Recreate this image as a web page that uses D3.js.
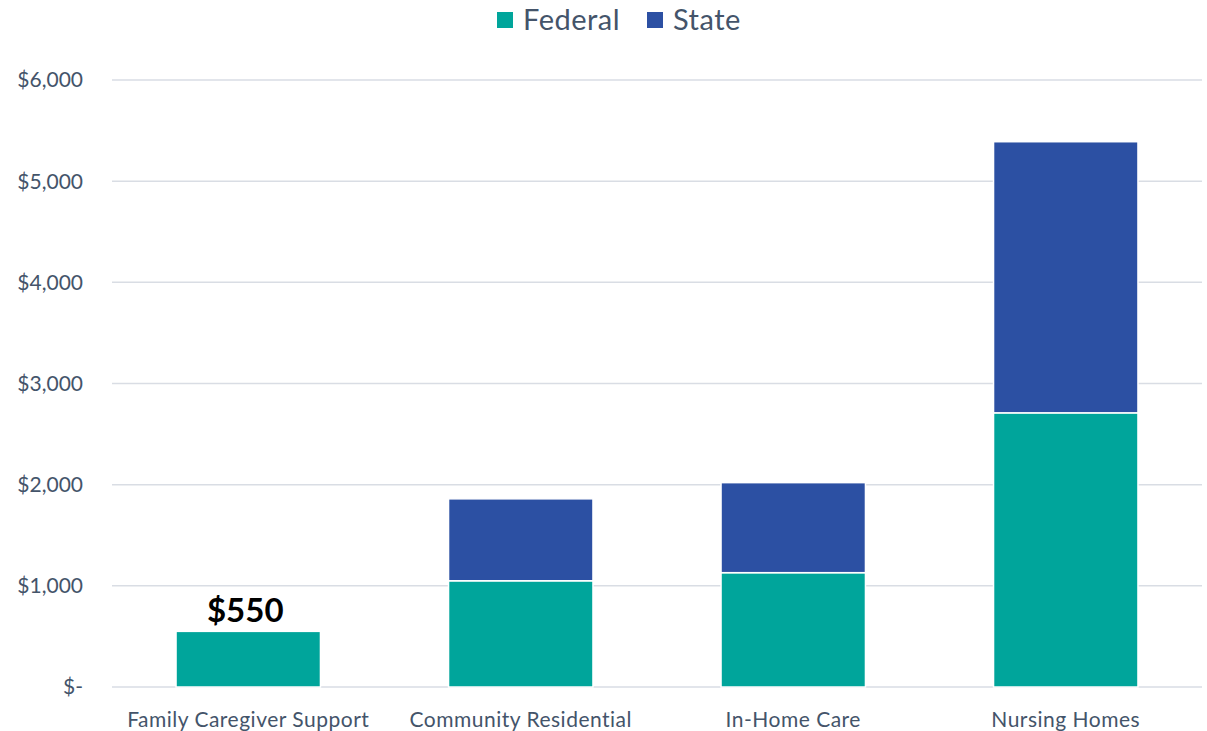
<!DOCTYPE html>
<html lang="en">
<head>
  <meta charset="UTF-8" />
  <title>Federal and State spending</title>
  <script src="https://d3js.org/d3.v7.min.js"></script>
  <style>
    body { margin: 0; background: #fff; }
    svg { font-family: Lato, "Open Sans", sans-serif; }
  </style>
</head>
<body>
  <div id="chart"></div>

  <script>
    // Données
    const categories = ["Family Caregiver Support", "Community Residential", "In-Home Care", "Nursing Homes"];
    const federal = [550, 1050, 1130, 2710];
    const state = [0, 810, 890, 2680];
    const seriesNames = ["Federal", "State"];
    const yTicks = [0, 1000, 2000, 3000, 4000, 5000, 6000];

    const colors = { Federal: "#00a59b", State: "#2c50a3" };
    const textColor = "#44546a";

    const width = 1207, height = 731;
    const margin = { top: 80, right: 5, bottom: 44, left: 112 };

    const svg = d3.select("#chart")
      .append("svg")
      .attr("width", width)
      .attr("height", height);

    const x = d3.scaleBand()
      .domain(categories)
      .range([margin.left, width - margin.right])
      .paddingInner(0.47)
      .paddingOuter(0.235);

    const y = d3.scaleLinear()
      .domain([0, 6000])
      .range([height - margin.bottom, margin.top]);

    // Grille
    svg.append("g")
      .selectAll("line")
      .data(yTicks)
      .enter()
      .append("line")
      .attr("x1", margin.left)
      .attr("x2", width - margin.right)
      .attr("y1", d => y(d))
      .attr("y2", d => y(d))
      .attr("stroke", "#d9dde4")
      .attr("stroke-width", 1.5);

    // Axe Y (texte seulement)
    svg.append("g")
      .selectAll("text")
      .data(yTicks)
      .enter()
      .append("text")
      .attr("x", 83)
      .attr("y", d => y(d))
      .attr("dy", "0.35em")
      .attr("text-anchor", "end")
      .style("font-size", "21px")
      .style("fill", textColor)
      .text(d => d === 0 ? "$-" : "$" + d3.format(",")(d));

    // Barres empilées
    const rows = categories.map((c, i) => ({ cat: c, Federal: federal[i], State: state[i] }));
    const stack = d3.stack().keys(seriesNames)(rows);

    svg.append("g")
      .selectAll("g")
      .data(stack)
      .enter()
      .append("g")
      .attr("fill", d => colors[d.key])
      .selectAll("rect")
      .data(d => d.filter(p => p[1] > p[0]))
      .enter()
      .append("rect")
      .attr("x", d => x(d.data.cat))
      .attr("width", x.bandwidth())
      .attr("y", d => y(d[1]))
      .attr("height", d => y(d[0]) - y(d[1]))
      .attr("stroke", "#fff")
      .attr("stroke-width", 1.5);

    // Étiquette $550
    svg.append("text")
      .attr("x", x(categories[0]) + x.bandwidth() / 2 - 3)
      .attr("y", y(federal[0]) - 9)
      .attr("text-anchor", "middle")
      .style("font-size", "33px")
      .style("font-weight", "bold")
      .style("fill", "#000")
      .text("$" + federal[0]);

    // Axe X (catégories)
    svg.append("g")
      .selectAll("text")
      .data(categories)
      .enter()
      .append("text")
      .attr("x", d => x(d) + x.bandwidth() / 2)
      .attr("y", 727)
      .attr("text-anchor", "middle")
      .style("font-size", "21px")
      .style("letter-spacing", "0.5px")
      .style("fill", textColor)
      .text(d => d);

    // Légende
    const legendPos = [{ x: 497, key: "Federal" }, { x: 647, key: "State" }];
    const legend = svg.append("g");
    legendPos.forEach(l => {
      legend.append("rect")
        .attr("x", l.x)
        .attr("y", 12)
        .attr("width", 16)
        .attr("height", 16)
        .attr("fill", colors[l.key]);
      legend.append("text")
        .attr("x", l.x + 26)
        .attr("y", 30)
        .style("font-size", "29px")
        .style("letter-spacing", "0.5px")
        .style("fill", textColor)
        .text(l.key);
    });
  </script>
</body>
</html>
